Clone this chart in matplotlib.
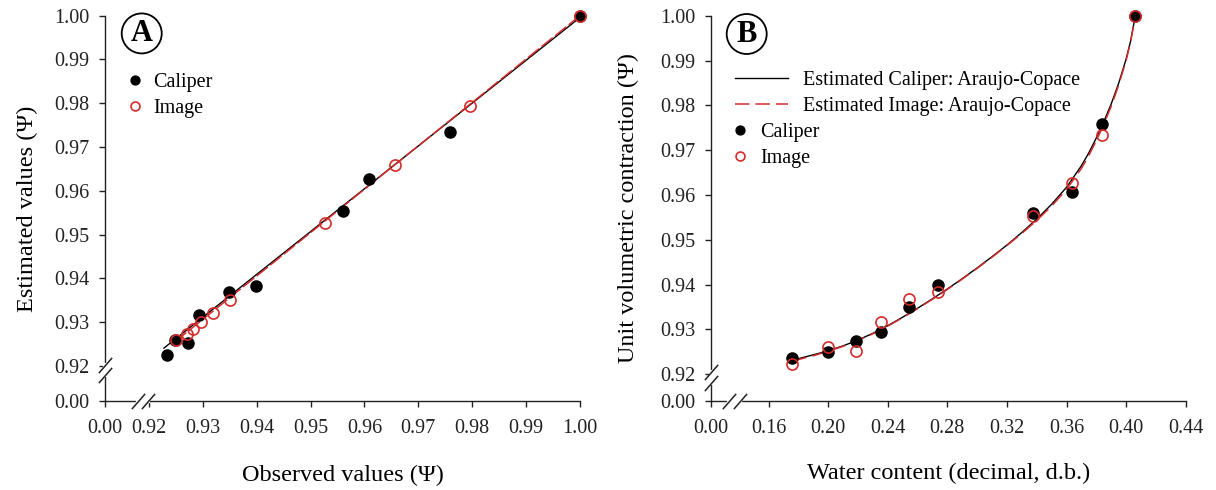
import numpy as np
import matplotlib
matplotlib.use('Agg')
import matplotlib.pyplot as plt

plt.rcParams['font.family'] = ['Liberation Serif', 'DejaVu Serif']

# =============================================================================
# data
# =============================================================================
# panel A : estimated vs observed
a_cal_obs = [0.9233, 0.9249, 0.9272, 0.9293, 0.9348, 0.9398, 0.9560, 0.9608, 0.9759, 1.0]
a_cal_est = [0.9225, 0.9260, 0.9252, 0.9317, 0.9369, 0.9384, 0.9554, 0.9627, 0.9735, 1.0]
a_img_obs = [0.9251, 0.9270, 0.9282, 0.9297, 0.9320, 0.9350, 0.9527, 0.9657, 0.9795, 1.0]
a_img_est = [0.9260, 0.9273, 0.9284, 0.9301, 0.9321, 0.9351, 0.9526, 0.9658, 0.9794, 1.0]
a_cal_line_x = [0.9228, 1.0]
a_cal_line_y = [0.9241, 0.9996]
a_img_line_x = [0.9249, 1.0]
a_img_line_y = [0.9256, 1.0]

# panel B : unit volumetric contraction vs water content
b_cal_x = [0.1759, 0.2000, 0.2190, 0.2357, 0.2540, 0.2736, 0.3376, 0.3636, 0.3837, 0.4062]
b_cal_y = [0.9235, 0.9250, 0.9274, 0.9295, 0.9349, 0.9399, 0.9559, 0.9607, 0.9758, 1.0]
b_img_x = [0.1759, 0.2000, 0.2190, 0.2357, 0.2540, 0.2736, 0.3376, 0.3636, 0.3837, 0.4062]
b_img_y = [0.9223, 0.9260, 0.9252, 0.9317, 0.9368, 0.9383, 0.9553, 0.9627, 0.9734, 1.0]
b_curve_x = [0.176, 0.19, 0.20, 0.21, 0.22, 0.23, 0.24, 0.25, 0.26, 0.27, 0.28, 0.29,
             0.30, 0.31, 0.32, 0.33, 0.34, 0.35, 0.36, 0.37, 0.375, 0.38, 0.385, 0.39,
             0.395, 0.40, 0.403, 0.4062]
b_cal_curve = [0.9231, 0.9243, 0.9252, 0.9263, 0.9276, 0.9291, 0.9308, 0.9327, 0.9347,
               0.9368, 0.9390, 0.9413, 0.9437, 0.9462, 0.9488, 0.9516, 0.9546, 0.9579,
               0.9617, 0.9665, 0.9694, 0.9727, 0.9763, 0.9803, 0.9849, 0.9903, 0.9943, 1.0]
b_img_curve = [0.9229, 0.9241, 0.9251, 0.9262, 0.9275, 0.9290, 0.9307, 0.9326, 0.9346,
               0.9367, 0.9389, 0.9412, 0.9436, 0.9461, 0.9487, 0.9514, 0.9543, 0.9575,
               0.9612, 0.9659, 0.9688, 0.9721, 0.9757, 0.9798, 0.9845, 0.9900, 0.9941, 1.0]

a_ticks = [0.0, 0.92, 0.93, 0.94, 0.95, 0.96, 0.97, 0.98, 0.99, 1.0]
b_xticks = [0.0, 0.16, 0.20, 0.24, 0.28, 0.32, 0.36, 0.40, 0.44]

RED = '#d42b2b'
AXC = '#222222'


# =============================================================================
# fonctions
# =============================================================================
def break_scale(brk, gap):
    # compresse [0, brk] dans un petit intervalle de largeur gap
    def fwd(v):
        v = np.asarray(v, dtype=float)
        return np.where(v >= brk, v, brk - gap + v * gap / brk)

    def inv(u):
        u = np.asarray(u, dtype=float)
        return np.where(u >= brk, u, (u - brk + gap) * brk / gap)
    return fwd, inv


def style(ax, xb, yb, xticks, yticks, xlim, ylim):
    ax.set_xscale('function', functions=break_scale(*xb))
    ax.set_yscale('function', functions=break_scale(*yb))
    ax.set_xlim(*xlim)
    ax.set_ylim(*ylim)
    ax.set_xticks(xticks)
    ax.set_yticks(yticks)
    ax.set_xticklabels(['%.2f' % t for t in xticks])
    ax.set_yticklabels(['%.2f' % t for t in yticks])
    ax.minorticks_off()
    for s in ['top', 'right']:
        ax.spines[s].set_visible(False)
    for s in ['left', 'bottom']:
        ax.spines[s].set_color(AXC)
        ax.spines[s].set_linewidth(1.0)
    ax.tick_params(axis='both', direction='out', length=4, width=1.0, color=AXC,
                   labelsize=14.5, labelcolor='#222222')
    ax.tick_params(axis='x', pad=9)
    ax.tick_params(axis='y', pad=7)


def draw_break(ax, which, p1, p2):
    slash = dict(marker=[(-1, -1.15), (1, 1.15)], markersize=11, linestyle='none',
                 color=AXC, mec=AXC, mew=1.1, clip_on=False, zorder=5)
    if which == 'y':
        ax.plot([0, 0], [p1, p2], transform=ax.transAxes, color='white', lw=3,
                clip_on=False, zorder=4)
        ax.plot([0, 0], [p1, p2], transform=ax.transAxes, **slash)
    else:
        ax.plot([p1, p2], [0, 0], transform=ax.transAxes, color='white', lw=3,
                clip_on=False, zorder=4)
        ax.plot([p1, p2], [0, 0], transform=ax.transAxes, **slash)


def circled(ax, x, y, letter):
    ax.text(x, y, letter, transform=ax.transAxes, ha='center', va='center',
            fontsize=22, fontweight='bold',
            bbox=dict(boxstyle='circle,pad=0.18', fc='white', ec='black', lw=1.3))


# =============================================================================
# figure
# =============================================================================
fig = plt.figure(figsize=(12.16, 4.90), dpi=100)
axA = fig.add_axes([0.08635, 0.18163, 0.39062, 0.78633])
axB = fig.add_axes([0.58470, 0.18163, 0.39038, 0.78633])

# ---- panel A
style(axA, (0.92, 0.00813), (0.92, 0.00797), a_ticks, a_ticks, (0.0, 1.0), (0.0, 1.0))
axA.plot(a_cal_line_x, a_cal_line_y, color='black', lw=1.0, zorder=3)
axA.plot(a_img_line_x, a_img_line_y, color=RED, lw=1.1, dashes=(9.4, 2.0), zorder=3)
axA.plot(a_cal_obs, a_cal_est, 'o', color='black', ms=8, label='Caliper',
         clip_on=False, zorder=6)
axA.plot(a_img_obs, a_img_est, 'o', mfc='none', mec=RED, mew=1.2, ms=8, label='Image',
         clip_on=False, zorder=7)
axA.legend(loc='upper left', bbox_to_anchor=(0.042, 0.8526), frameon=False, fontsize=14.5,
           borderpad=0, borderaxespad=0, handlelength=1.0, handletextpad=0.4,
           labelspacing=0.35, markerscale=0.8, numpoints=1)
axA.set_xlabel('Observed values (Ψ)', fontsize=17.5, va='center')
axA.xaxis.set_label_coords(0.5, -0.192)
axA.set_ylabel('Estimated values (Ψ)', fontsize=17.5, va='center')
axA.yaxis.set_label_coords(-0.164, 0.5)
draw_break(axA, 'y', 0.0934, 0.0675)
draw_break(axA, 'x', 0.0695, 0.0905)
circled(axA, 0.0773, 0.954, 'A')

# ---- panel B
style(axB, (0.16, 0.0386), (0.92, 0.0060), b_xticks, a_ticks, (0.0, 0.44), (0.0, 1.0))
l1, = axB.plot(b_curve_x, b_cal_curve, color='black', lw=1.0, zorder=3,
               label='Estimated Caliper: Araujo-Copace')
l2, = axB.plot(b_curve_x, b_img_curve, color=RED, lw=1.1, dashes=(9.4, 4.0), zorder=3,
               label='Estimated Image: Araujo-Copace')
m1, = axB.plot(b_cal_x, b_cal_y, 'o', color='black', ms=8, label='Caliper',
               clip_on=False, zorder=6)
m2, = axB.plot(b_img_x, b_img_y, 'o', mfc='none', mec=RED, mew=1.2, ms=8, label='Image',
               clip_on=False, zorder=7)
leg1 = axB.legend(handles=[l1, l2], loc='upper left', bbox_to_anchor=(0.0506, 0.8578),
                  frameon=False, fontsize=14.5, borderpad=0, borderaxespad=0,
                  handlelength=2.64, handletextpad=0.75, labelspacing=0.35)
axB.add_artist(leg1)
axB.legend(handles=[m1, m2], loc='upper left', bbox_to_anchor=(0.040, 0.7228),
           frameon=False, fontsize=14.5, borderpad=0, borderaxespad=0,
           handlelength=1.0, handletextpad=0.5, labelspacing=0.35,
           markerscale=0.8, numpoints=1)
axB.set_xlabel('Water content (decimal, d.b.)', fontsize=17.5, va='center')
axB.xaxis.set_label_coords(0.5, -0.187)
axB.set_ylabel('Unit volumetric contraction (Ψ)', fontsize=17.5, va='center')
axB.yaxis.set_label_coords(-0.173, 0.5)
draw_break(axB, 'y', 0.0753, 0.0467)
draw_break(axB, 'x', 0.0379, 0.0611)
circled(axB, 0.0752, 0.9525, 'B')

fig.savefig('out.png', dpi=100)
